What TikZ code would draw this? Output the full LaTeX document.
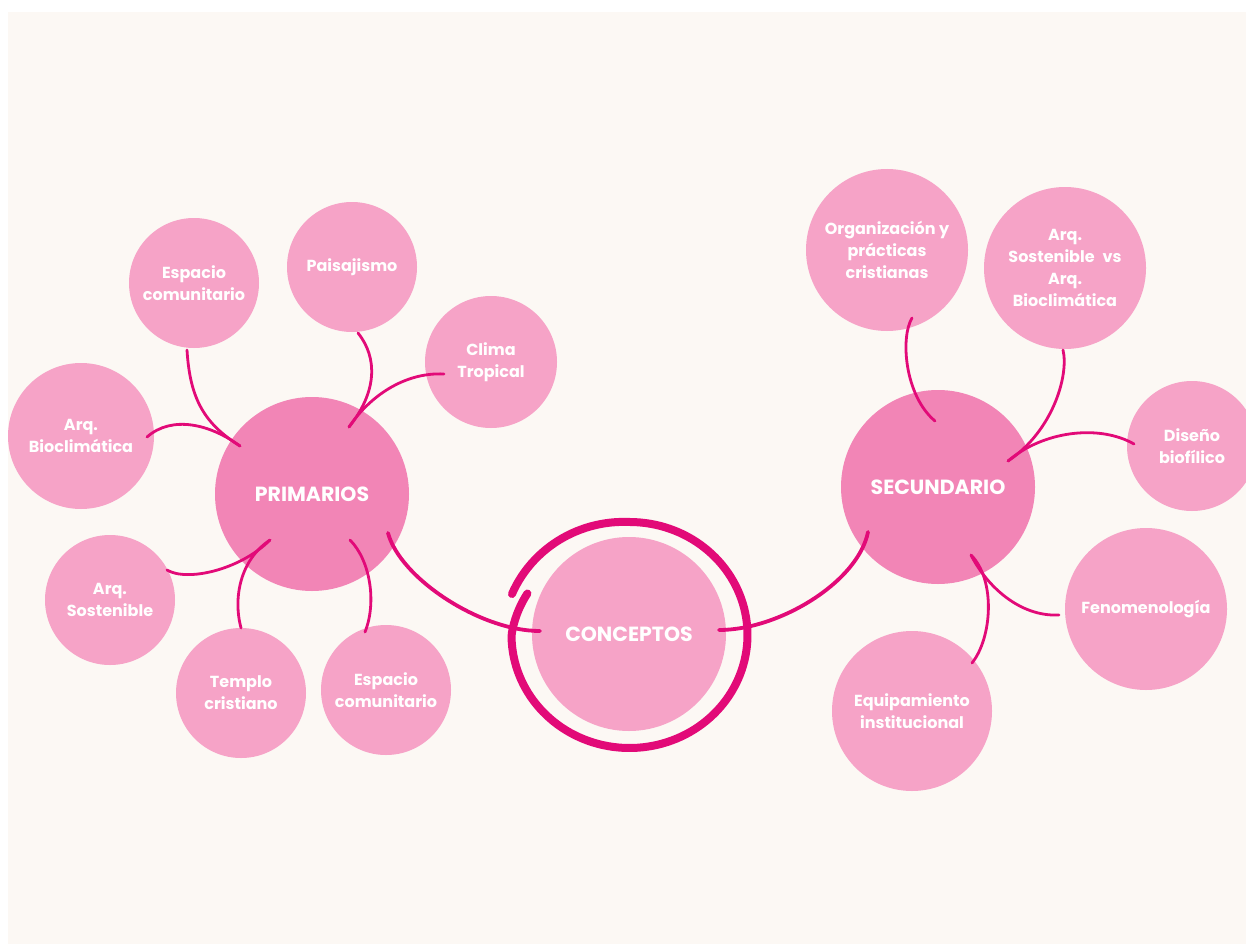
\documentclass[tikz,border=0pt]{standalone}
\usepackage{fontspec}
\setmainfont{Poppins}
\usetikzlibrary{calc}
\definecolor{bgcol}{HTML}{FCF8F4}
\definecolor{lightpink}{HTML}{F6A3C7}
\definecolor{hubpink}{HTML}{F285B6}
\definecolor{linemag}{HTML}{E20A78}
\begin{document}
\begin{tikzpicture}[x=1pt,y=-1pt,
  sub/.style={circle,fill=lightpink,text=white,inner sep=0pt,align=center,
    font=\bfseries\fontsize{16}{22}\selectfont},
  hub/.style={circle,fill=hubpink,text=white,inner sep=0pt,minimum size=194,
    font=\bfseries\fontsize{20.5}{24}\selectfont},
  conn/.style={draw=linemag,line width=2.8pt,line cap=round},
  hubconn/.style={draw=linemag,line width=3.8pt,line cap=round},
  ring/.style={draw=linemag,line width=8pt,line cap=round,line join=round}]
\useasboundingbox (0,0) rectangle (1246,944);
\fill[white] (0,0) rectangle (1246,944);
\fill[bgcol] (8,12) rectangle (1246,944);

% ring around CONCEPTOS
\draw[ring] plot[domain=160:-203,samples=150,variable=\t]
  ({629.5+118*(1+0.06*max(0,(\t-90)/70)-0.06*max(0,(-180-\t)/23))*cos(\t)},
   {635-113*(1+0.06*max(0,(\t-90)/70)-0.06*max(0,(-180-\t)/23))*sin(\t)});

% nodes
\node[sub,minimum size=130] (ec1) at (194,283) {Espacio\\comunitario};
\node[sub,minimum size=130] (pai) at (352,267) {Paisajismo};
\node[sub,minimum size=132] (cli) at (491,362) {Clima\\Tropical};
\node[sub,minimum size=146] (abio) at (81,436) {Arq.\\Bioclimática};
\node[hub] (pri) at (312,494) {PRIMARIOS};
\node[sub,minimum size=130] (asos) at (110,600) {Arq.\\Sostenible};
\node[sub,minimum size=130] (tem) at (241,693) {Templo\\cristiano};
\node[sub,minimum size=130] (ec2) at (386,690) {Espacio\\comunitario};
\node[hub,fill=lightpink] (con) at (629,634) {CONCEPTOS};
\node[hub] (sec) at (938,487) {SECUNDARIO};
\node[sub,minimum size=162] (org) at (887,250) {Organización y\\prácticas\\cristianas};
\node[sub,minimum size=162] (asvs) at (1065,268) {Arq.\\Sostenible\enspace vs\\Arq.\\Bioclimática};
\node[sub,minimum size=130] (dis) at (1192,446) {Diseño\\biofílico};
\node[sub,minimum size=162] (fen) at (1146,609) {Fenomenología};
\node[sub,minimum size=160] (equ) at (912,711) {Equipamiento\\institucional};

% connectors to PRIMARIOS
\draw[conn] ($(ec1)+(-7,67)$) .. controls +(3,50) and +(-35,-22) .. ($(pri)+(-72,-48)$);
\draw[conn] ($(abio)+(66,1)$) .. controls +(25,-22) and +(-30,-22) .. ($(pri)+(-72,-48)$);
\draw[conn] ($(pai)+(6,66)$) .. controls +(20,25) and +(28,-35) .. ($(pri)+(37,-67)$);
\draw[conn] ($(cli)+(-47,12)$) .. controls +(-40,-2) and +(20,-30) .. ($(pri)+(37,-67)$);
\draw[conn] ($(asos)+(57,-30)$) .. controls +(20,12) and +(-30,30) .. ($(pri)+(-42,46)$);
\draw[conn] ($(tem)+(0,-65)$) .. controls +(-8,-30) and +(-30,20) .. ($(pri)+(-42,46)$);
\draw[conn] ($(ec2)+(-21,-58)$) .. controls +(12,-30) and +(20,20) .. ($(pri)+(38,46)$);
\draw[hubconn] ($(pri)+(76,39)$) .. controls +(12,45) and +(-60,0) .. ($(con)+(-89,-3)$);

% connectors to SECUNDARIO
\draw[conn] ($(org)+(25,68)$) .. controls +(-12,20) and +(-30,-25) .. ($(sec)+(-3,-66)$);
\draw[conn] ($(asvs)+(-2,82)$) .. controls +(6,25) and +(45,-30) .. ($(sec)+(70,-26)$);
\draw[conn] ($(dis)+(-58,-2)$) .. controls +(-35,-20) and +(35,-30) .. ($(sec)+(70,-26)$);
\draw[conn] ($(fen)+(-87,6)$) .. controls +(-40,2) and +(15,30) .. ($(sec)+(33,68)$);
\draw[conn] ($(equ)+(60,-48)$) .. controls +(20,-25) and +(25,25) .. ($(sec)+(33,68)$);
\draw[hubconn] ($(sec)+(-70,45)$) .. controls +(-10,50) and +(60,0) .. ($(con)+(90,-4)$);
\end{tikzpicture}
\end{document}
